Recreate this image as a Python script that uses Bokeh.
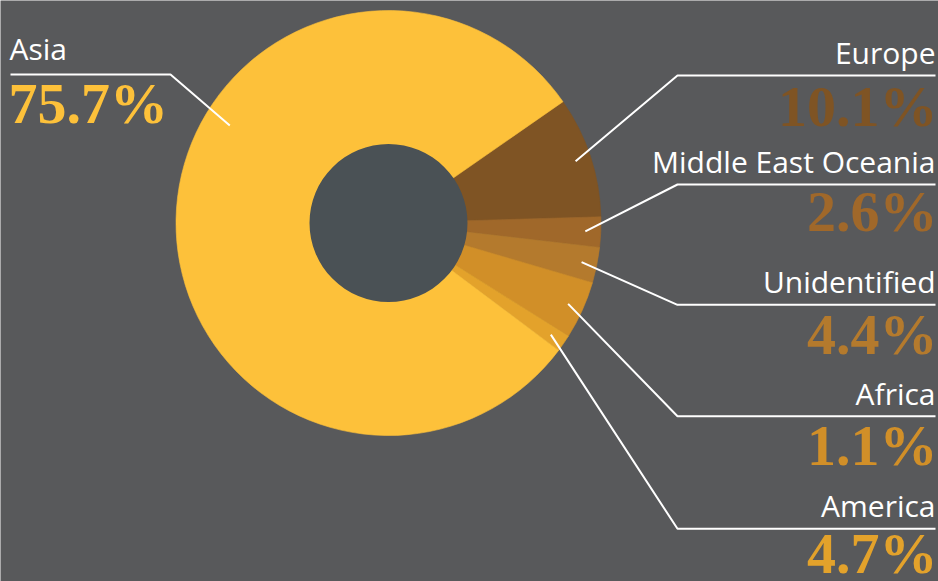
import numpy as np
from bokeh.plotting import figure
from bokeh.models import Range1d, ColumnDataSource
from bokeh.embed import file_html
from bokeh.resources import INLINE
from bokeh.core.properties import value

# ---- data ----
regions = ["Europe", "Middle East Oceania", "Unidentified", "Africa", "America", "Asia"]
pct_labels = ["10.1%", "2.6%", "4.4%", "1.1%", "4.7%", "75.7%"]
# share of the ring each slice occupies as drawn in the reference (%)
slice_share = [9.2, 2.3, 2.7, 4.4, 1.3, 80.1]
colors = ["#7f5424", "#a0682a", "#b47a2d", "#d18f28", "#e3a22b", "#fdc13a"]

# ---- layout ----
W, H = 938, 581
BG = "#58595b"
HOLE = "#4a5155"
CX, CY = 388, 222.5          # screen px (y from top)
R_OUT, R_IN = 212.5, 79
START_DEG = 34.8
NAME_SHIFT, PCT_SHIFT = 13, 21   # baseline corrections for the text glyph

def fy(y):
    return H - y

spans = np.array(slice_share) / np.sum(slice_share) * 2 * np.pi
cum = np.concatenate([[0], np.cumsum(spans)[:-1]])
starts = np.deg2rad(START_DEG) - cum
ends = starts - spans
mids = (starts + ends) / 2

src = ColumnDataSource(dict(start=starts, end=ends, color=colors, region=regions))

p = figure(width=W, height=H, x_range=Range1d(0, W), y_range=Range1d(0, H),
           output_backend="svg", toolbar_location=None, min_border=0,
           background_fill_color=BG, border_fill_color=BG, outline_line_color=None)
p.axis.visible = False
p.grid.visible = False

p.wedge(x=CX, y=fy(CY), radius=R_OUT, start_angle="start", end_angle="end",
        direction="clock", fill_color="color", line_color="color", line_width=0.6,
        source=src)
p.circle(x=[CX], y=[fy(CY)], radius=R_IN, fill_color=HOLE, line_color=None)

NAME_FONT = value("Open Sans")
PCT_FONT = value("Liberation Serif")

# right-hand labels (first five regions)
line_y = [75, 184, 304.3, 415.7, 528.3]
pct_base = [127, 232, 355, 466, 574]
ELBOW_X, RIGHT_X = 677, 935
TIP_R = 197
for i in range(5):
    tx = CX + TIP_R * np.cos(mids[i])
    ty = CY - TIP_R * np.sin(mids[i])
    ly = line_y[i]
    p.line(x=[tx, ELBOW_X, RIGHT_X], y=[fy(ty), fy(ly), fy(ly)],
           line_color="white", line_width=2)
    p.text(x=[RIGHT_X], y=[fy(ly - 10 - NAME_SHIFT)], text=[regions[i]], text_align="right",
           text_baseline="alphabetic", text_font=NAME_FONT, text_font_size="30px",
           text_color="white")
    p.text(x=[RIGHT_X + 2], y=[fy(pct_base[i] - PCT_SHIFT)], text=[pct_labels[i]],
           text_align="right", text_baseline="alphabetic", text_font=PCT_FONT,
           text_font_style="bold", text_font_size="58px", text_color=colors[i])

# Asia label (left)
asia_tip = (229.3, 125)
asia_line_y = 74
p.line(x=[10, 170, asia_tip[0]], y=[fy(asia_line_y), fy(asia_line_y), fy(asia_tip[1])],
       line_color="white", line_width=2)
p.text(x=[9], y=[fy(61 - NAME_SHIFT)], text=[regions[5]], text_align="left",
       text_baseline="alphabetic", text_font=NAME_FONT, text_font_size="30px",
       text_color="white")
p.text(x=[8], y=[fy(124 - PCT_SHIFT)], text=[pct_labels[5]], text_align="left",
       text_baseline="alphabetic", text_font=PCT_FONT, text_font_style="bold",
       text_font_size="58px", text_color=colors[5])

open("out.html", "w").write(file_html(p, INLINE))
